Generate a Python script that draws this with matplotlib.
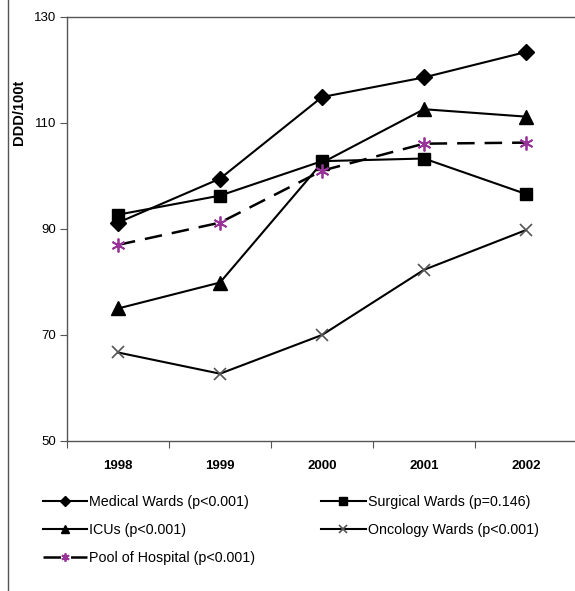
import matplotlib
matplotlib.use('Agg')
import matplotlib.pyplot as plt
from matplotlib.lines import Line2D

plt.rcParams['font.family'] = ['Liberation Sans', 'DejaVu Sans']

years = ['1998', '1999', '2000', '2001', '2002']
medical = [91.2, 99.5, 114.9, 118.6, 123.4]
surgical = [92.7, 96.3, 102.8, 103.3, 96.6]
icus = [75.0, 79.9, 102.5, 112.6, 111.2]
oncology = [66.7, 62.7, 70.0, 82.3, 89.8]
pool = [87.0, 91.2, 101.0, 106.1, 106.3]

labels = ['Medical Wards (p<0.001)', 'Surgical Wards (p=0.146)', 'ICUs (p<0.001)',
          'Oncology Wards (p<0.001)', 'Pool of Hospital (p<0.001)']

fig = plt.figure(figsize=(5.75, 5.91), dpi=100)
W, H = 575, 591
ax = fig.add_axes([67 / W, 1 - 441 / H, (577 - 67) / W, (441 - 17) / H])

x = range(len(years))
h_med, = ax.plot(x, medical, color='black', lw=1.5, marker='D', ms=8, mfc='black', mec='black')
h_sur, = ax.plot(x, surgical, color='black', lw=1.5, marker='s', ms=9, mfc='black', mec='black')
h_icu, = ax.plot(x, icus, color='black', lw=1.5, marker='^', ms=10, mfc='black', mec='black')
h_onc, = ax.plot(x, oncology, color='black', lw=1.5, marker='x', ms=9, mec='#555555', mew=1.2)
h_pool, = ax.plot(x, pool, color='black', lw=1.8, dashes=(7, 4), marker=(6, 2, 0), ms=10,
                  mec='#993399', mew=1.3)

ax.set_xlim(-0.5, 4.5)
ax.set_ylim(50, 130)
ax.set_yticks([50, 70, 90, 110, 130])
ax.set_xticks([i - 0.5 for i in range(len(years) + 1)])
ax.set_xticklabels([])
ax.set_xticks(list(x), minor=True)
ax.set_xticklabels(years, minor=True, fontsize=9.5, fontweight='bold')
ax.tick_params(axis='x', which='minor', length=0, pad=14)
ax.tick_params(axis='x', which='major', length=5, color='#555555')
ax.tick_params(axis='y', length=5, color='#555555', labelsize=9.5, pad=3)

for s in ['left', 'top', 'bottom', 'right']:
    ax.spines[s].set_color('#555555')
    ax.spines[s].set_linewidth(1.0)

fig.text(19 / W, 1 - 112 / H, 'DDD/100t', rotation=90, fontsize=10.5, fontweight='bold',
         ha='center', va='center')

fig.add_artist(Line2D([8 / W, 8 / W], [0, 1], transform=fig.transFigure, color='#555555', lw=1.0))

leg = fig.legend([h_med, h_icu, h_pool, h_sur, h_onc],
                 [labels[0], labels[2], labels[4], labels[1], labels[3]],
                 ncol=2, loc='upper left', bbox_to_anchor=(30 / W, 1 - 482 / H),
                 frameon=False, fontsize=10.3, handlelength=3.1, handletextpad=0.15,
                 columnspacing=4.6, labelspacing=1.0, markerscale=0.6)

fig.savefig('out.png', dpi=100)
